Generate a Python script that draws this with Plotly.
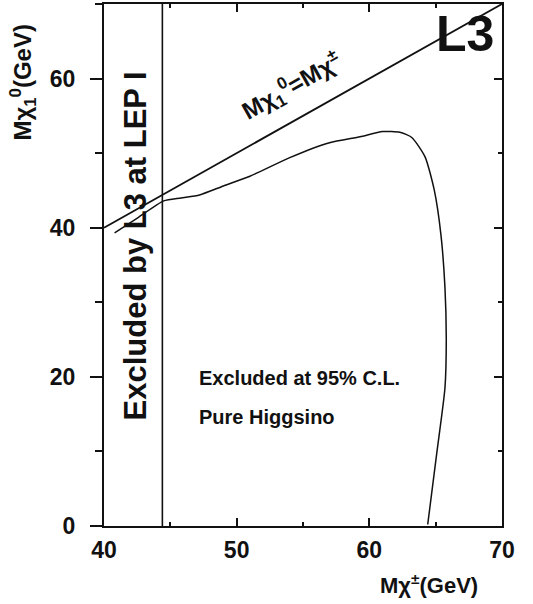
import plotly.graph_objects as go

# ---- data ----
x_ticks = [40, 50, 60, 70]
y_ticks = [0, 20, 40, 60]

diag_x = [40, 70]
diag_y = [40, 70]

lep1_x = [44.4, 44.4]
lep1_y = [0, 70]

excl_x = [40.8, 42.6, 44.5, 45.8, 47.2, 49.0, 51.0, 54.0, 57.0, 59.3, 61.0, 62.3,
          63.2, 64.2, 64.9, 65.4, 65.7, 65.8, 65.7, 65.1, 64.4]
excl_y = [39.3, 41.4, 43.6, 44.0, 44.4, 45.6, 46.9, 49.4, 51.4, 52.2, 52.9, 52.8,
          52.1, 49.5, 45.0, 39.0, 32.0, 25.0, 18.5, 10.0, 0.2]

FONT = "Liberation Sans, Arial, Helvetica, sans-serif"
INK = "#111111"

fig = go.Figure()
fig.add_trace(go.Scatter(x=diag_x, y=diag_y, mode="lines", xaxis="x2", yaxis="y2",
                         line=dict(color=INK, width=1.8), showlegend=False, hoverinfo="skip"))
fig.add_trace(go.Scatter(x=lep1_x, y=lep1_y, mode="lines",
                         line=dict(color=INK, width=1.6), showlegend=False, hoverinfo="skip"))
fig.add_trace(go.Scatter(x=excl_x, y=excl_y, mode="lines",
                         line=dict(color=INK, width=1.5, shape="spline", smoothing=0.6),
                         showlegend=False, hoverinfo="skip"))

common_x = dict(range=[40, 70], showgrid=False, zeroline=False, showline=True,
                linecolor=INK, linewidth=2, automargin=False)
common_y = dict(range=[0, 70], showgrid=False, zeroline=False, showline=True,
                linecolor=INK, linewidth=2, automargin=False)

fig.update_layout(
    template="none",
    width=533, height=604,
    margin=dict(l=104, r=31, t=4, b=78, autoexpand=False),
    paper_bgcolor="white", plot_bgcolor="white",
    font=dict(family=FONT, color=INK),
    xaxis=dict(**common_x, tickmode="array", tickvals=x_ticks,
               ticktext=[f"<b>{v}</b>" for v in x_ticks],
               ticks="inside", ticklen=8, tickwidth=1.5, tickcolor=INK,
               tickfont=dict(size=23, family=FONT, color=INK), ticklabelstandoff=2,
               minor=dict(dtick=5, tick0=40, ticks="inside", ticklen=4, tickwidth=1.5,
                          tickcolor=INK, showgrid=False)),
    yaxis=dict(**common_y, tickmode="array", tickvals=y_ticks,
               ticktext=[f"<b>{v}</b>" for v in y_ticks],
               ticks="outside", ticklen=12, tickwidth=1.5, tickcolor=INK,
               tickfont=dict(size=23, family=FONT, color=INK), ticklabelstandoff=10,
               minor=dict(dtick=10, tick0=0, ticks="outside", ticklen=7, tickwidth=1.5,
                          tickcolor=INK, showgrid=False)),
    xaxis2=dict(**common_x, overlaying="x", side="top", anchor="y2", matches="x",
                tickmode="array", tickvals=x_ticks, showticklabels=False,
                ticks="inside", ticklen=8, tickwidth=1.5, tickcolor=INK,
                minor=dict(dtick=5, tick0=40, ticks="inside", ticklen=4, tickwidth=1.5,
                           tickcolor=INK, showgrid=False)),
    yaxis2=dict(**common_y, overlaying="y", side="right", anchor="x2", matches="y",
                tickmode="array", tickvals=y_ticks, showticklabels=False,
                ticks="inside", ticklen=8, tickwidth=1.5, tickcolor=INK,
                minor=dict(dtick=10, tick0=0, ticks="inside", ticklen=4, tickwidth=1.5,
                           tickcolor=INK, showgrid=False)),
)

ann = [
    dict(text="<b>L3</b>", x=67.2, y=66.0, xref="x", yref="y", showarrow=False,
         font=dict(size=50, family=FONT, color=INK)),
    dict(text="<b>Mχ<sub>1</sub><sup>0</sup>=Mχ<sup>±</sup></b>", x=54.2, y=59.0,
         xref="x", yref="y", showarrow=False, textangle=-29.4,
         font=dict(size=24, family=FONT, color=INK)),
    dict(text="<b>Excluded by L3 at LEP I</b>", x=42.4, y=37.6, xref="x", yref="y",
         showarrow=False, textangle=-90, font=dict(size=31, family=FONT, color=INK)),
    dict(text="<b>Excluded at 95% C.L.</b>", x=47.0, y=19.8, xref="x", yref="y",
         xanchor="left", showarrow=False, font=dict(size=20, family=FONT, color=INK)),
    dict(text="<b>Pure Higgsino</b>", x=47.0, y=14.6, xref="x", yref="y",
         xanchor="left", showarrow=False, font=dict(size=20, family=FONT, color=INK)),
    dict(text="<b>Mχ<sup>±</sup>(GeV)</b>", x=0.945, y=-0.111, xref="paper", yref="paper",
         xanchor="right", yanchor="middle", showarrow=False,
         font=dict(size=22, family=FONT, color=INK)),
    dict(text="<b>Mχ<sub>1</sub><sup>0</sup>(GeV)</b>", x=-0.204, y=0.851, xref="paper", yref="paper",
         xanchor="center", yanchor="middle", showarrow=False, textangle=-90,
         font=dict(size=24, family=FONT, color=INK)),
]
fig.update_layout(annotations=ann)

fig.write_html("out.html", config={"displayModeBar": False},
               post_script="document.body.style.margin='0';document.body.style.padding='0';")
